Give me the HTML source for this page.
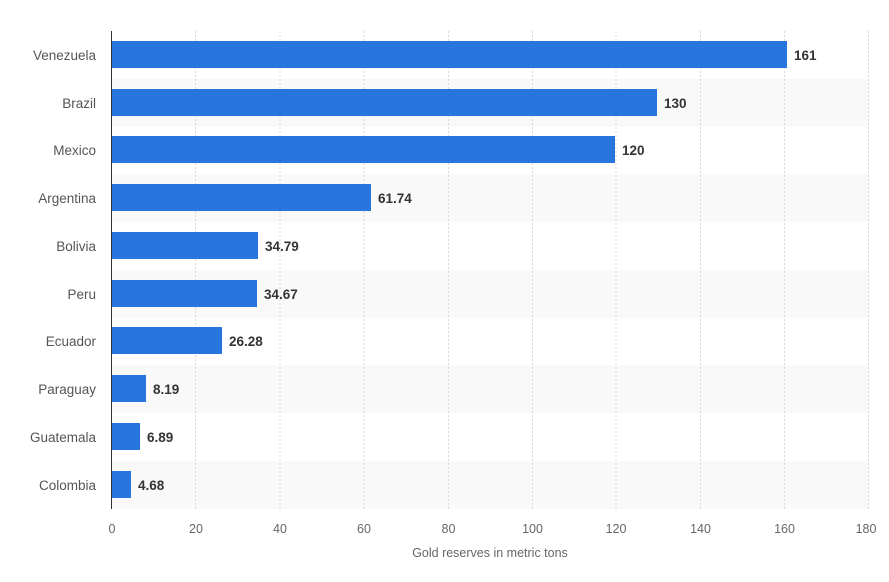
<!DOCTYPE html>
<html><head><style>body{margin:0;background:#fff}</style></head><body>
<svg width="889" height="577" xmlns="http://www.w3.org/2000/svg" font-family="Liberation Sans, sans-serif">
<g fill="#f9f9f9">
<rect x="112" y="79" width="757" height="48"/>
<rect x="112" y="174" width="757" height="48"/>
<rect x="112" y="270" width="757" height="48"/>
<rect x="112" y="365" width="757" height="48"/>
<rect x="112" y="461" width="757" height="48"/>
</g>
<g stroke="#d8d8d8" stroke-dasharray="2,2" stroke-width="1">
<line x1="195.5" y1="31" x2="195.5" y2="509"/><line x1="280" y1="31" x2="280" y2="509"/>
<line x1="364" y1="31" x2="364" y2="509"/><line x1="448.5" y1="31" x2="448.5" y2="509"/>
<line x1="532.5" y1="31" x2="532.5" y2="509"/><line x1="616" y1="31" x2="616" y2="509"/>
<line x1="700.5" y1="31" x2="700.5" y2="509"/><line x1="784.5" y1="31" x2="784.5" y2="509"/>
<line x1="868.5" y1="31" x2="868.5" y2="509"/>
</g>
<line x1="111.5" y1="31" x2="111.5" y2="509" stroke="#333" stroke-width="1"/>
<g fill="#2876dd">
<rect x="112" y="41" width="675" height="27"/>
<rect x="112" y="89" width="545" height="27"/>
<rect x="112" y="136" width="503" height="27"/>
<rect x="112" y="184" width="259" height="27"/>
<rect x="112" y="232" width="146" height="27"/>
<rect x="112" y="280" width="145" height="27"/>
<rect x="112" y="327" width="110" height="27"/>
<rect x="112" y="375" width="34" height="27"/>
<rect x="112" y="423" width="28" height="27"/>
<rect x="112" y="471" width="19" height="27"/>
</g>
<g font-size="13.5" fill="#555" text-anchor="end">
<text x="96" y="60">Venezuela</text><text x="96" y="108">Brazil</text>
<text x="96" y="155">Mexico</text><text x="96" y="203">Argentina</text>
<text x="96" y="251">Bolivia</text><text x="96" y="299">Peru</text>
<text x="96" y="346">Ecuador</text><text x="96" y="394">Paraguay</text>
<text x="96" y="442">Guatemala</text><text x="96" y="490">Colombia</text>
</g>
<g font-size="13.5" font-weight="bold" fill="#333">
<text x="794" y="60">161</text><text x="664" y="108">130</text>
<text x="622" y="155">120</text><text x="378" y="203">61.74</text>
<text x="265" y="251">34.79</text><text x="264" y="299">34.67</text>
<text x="229" y="346">26.28</text><text x="153" y="394">8.19</text>
<text x="147" y="442">6.89</text><text x="138" y="490">4.68</text>
</g>
<g font-size="12.5" fill="#666" text-anchor="middle">
<text x="112" y="533">0</text><text x="196" y="533">20</text><text x="280" y="533">40</text>
<text x="364" y="533">60</text><text x="448.5" y="533">80</text><text x="532.5" y="533">100</text>
<text x="616" y="533">120</text><text x="700.5" y="533">140</text><text x="784.5" y="533">160</text>
<text x="866" y="533">180</text>
<text x="490" y="557">Gold reserves in metric tons</text>
</g>
</svg>
</body></html>
